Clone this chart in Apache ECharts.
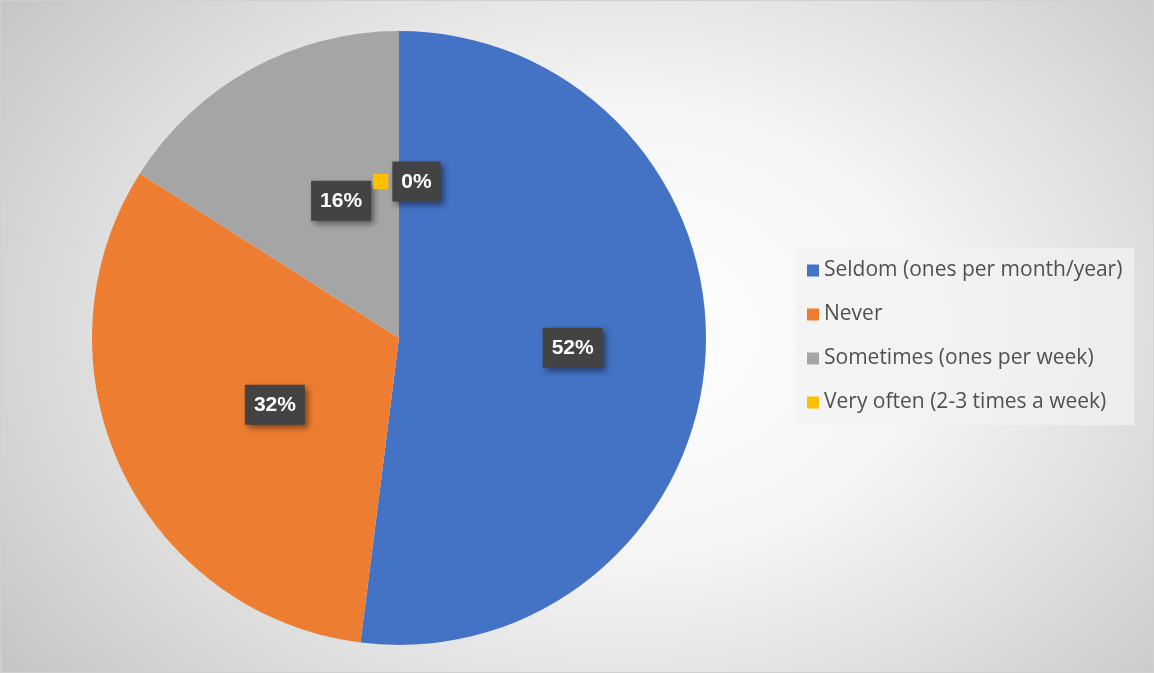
<!DOCTYPE html>
<html>
	<head>
		<meta charset="UTF-8">
		<title></title>
		<script src="https://cdn.jsdelivr.net/npm/echarts@6/dist/echarts.min.js"></script>
		<style>
			html, body { margin: 0; padding: 0; background: #fff; }
			#chart {
				width: 1152px; height: 671px; border: 1px solid #d0d0d0;
				background: radial-gradient(ellipse 760px 560px at 620px 330px, #ffffff 0%, #f5f5f5 40%, #e2e2e2 65%, #c6c6c6 100%);
			}
		</style>
	</head>
	<body>
		<div id="chart"></div>
		<script type="text/javascript">
			// answers (counts) -> shown as percent of total
			var categories = ['Seldom (ones per month/year)', 'Never', 'Sometimes (ones per week)', 'Very often (2-3 times a week)'];
			var counts = [13, 8, 4, 0];
			var colors = ['#4472C4', '#ED7D31', '#A5A5A5', '#FFC000'];

			var myChart = echarts.init(document.getElementById('chart'));

			var data = [];
			for (var i = 0; i < categories.length; i++) {
				data.push({
					value: counts[i],
					name: categories[i],
					label: { rich: { key: { backgroundColor: colors[i] } } }
				});
			}

			var option = {
				backgroundColor: 'transparent',
				color: colors,
				legend: {
					orient: 'vertical',
					left: 794,
					top: 247,
					padding: [12, 12, 12, 12],
					backgroundColor: 'rgba(242,242,242,0.7)',
					itemWidth: 12,
					itemHeight: 12,
					itemGap: 23,
					icon: 'rect',
					textStyle: { fontFamily: 'Open Sans', fontSize: 21, color: '#505050' },
					data: categories
				},
				series: [
					{
						type: 'pie',
						center: [398, 337],
						radius: 307,
						startAngle: 90,
						clockwise: true,
						avoidLabelOverlap: false,
						stillShowZeroSum: true,
						label: {
							show: true,
							position: 'inside',
							offset: [8, 0],
							formatter: function (p) {
								return '{key|}{gap|}{pct|' + Math.round(p.percent) + '%}';
							},
							rich: {
								key: { width: 15, height: 15 },
								gap: { width: 4 },
								pct: {
									color: '#fff',
									fontFamily: 'Liberation Sans',
									fontWeight: 'bold',
									fontSize: 21,
									backgroundColor: '#434343',
									padding: [10, 9, 9, 9],
									shadowColor: 'rgba(0,0,0,0.45)',
									shadowBlur: 6,
									shadowOffsetX: 3,
									shadowOffsetY: 3
								}
							}
						},
						labelLine: { show: false },
						emphasis: { disabled: true },
						data: data
					}
				]
			};
			myChart.setOption(option);
		</script>
	</body>
</html>
